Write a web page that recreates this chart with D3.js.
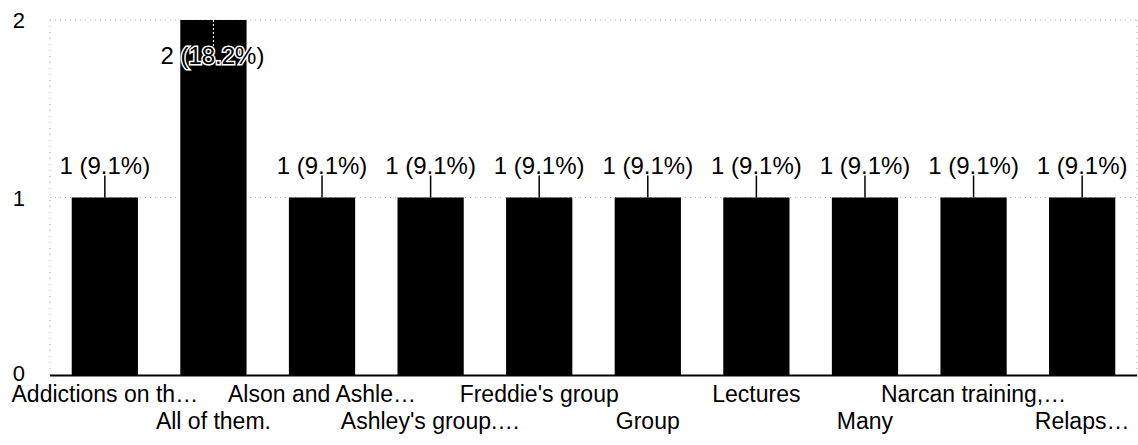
<!DOCTYPE html>
<html>
<head>
<meta charset="utf-8">
<script src="https://cdn.jsdelivr.net/npm/d3@7"></script>
<style>
  body { margin: 0; background: #fff; }
  svg { display: block; font-family: "Liberation Sans", Arial, sans-serif; }
</style>
</head>
<body>
<svg id="chart" width="1138" height="445"></svg>
<script>
// chart data
const categories = [
    "Addictions on th\u2026", "All of them.", "Alson and Ashle\u2026", "Ashley's group.\u2026",
    "Freddie's group", "Group", "Lectures", "Many", "Narcan training,\u2026", "Relaps\u2026"
];
const values = [1, 2, 1, 1, 1, 1, 1, 1, 1, 1];
const yTicks = [0, 1, 2];

const total = d3.sum(values);
const fmtPct = d3.format(".1%");

const svg = d3.select("#chart");

const x = d3.scaleBand()
    .domain(categories)
    .range([50, 1137])
    .paddingInner(0.39)
    .paddingOuter(0.2);

const y = d3.scaleLinear()
    .domain([0, 2])
    .range([375, 20]);

// dotted grid
let grid = svg.append("g");
grid.selectAll("line.h")
    .data(yTicks.filter(d => d > 0))
    .join("line")
    .attr("x1", 50).attr("x2", 1137)
    .attr("y1", d => y(d)).attr("y2", d => y(d))
    .attr("stroke", "#aaa")
    .attr("stroke-dasharray", "1,4");

grid.selectAll("line.v")
    .data([50, 1137])
    .join("line")
    .attr("x1", d => d).attr("x2", d => d)
    .attr("y1", y(2)).attr("y2", y(0))
    .attr("stroke", "#aaa")
    .attr("stroke-dasharray", "1,5");

// y labels
svg.append("g").selectAll("text")
    .data(yTicks)
    .join("text")
    .attr("x", 25)
    .attr("y", d => y(d) + (d === 0 ? 6 : 8))
    .attr("text-anchor", "end")
    .style("font-size", "22px")
    .text(d => d);

// bars
svg.append("g").selectAll("rect")
    .data(values)
    .join("rect")
    .attr("x", (d, i) => x(categories[i]))
    .attr("y", d => y(d))
    .attr("width", x.bandwidth())
    .attr("height", d => y(0) - y(d))
    .attr("fill", "#000");

// axis line
svg.append("line")
    .attr("x1", 50).attr("x2", 1137)
    .attr("y1", y(0) + 0.5).attr("y2", y(0) + 0.5)
    .attr("stroke", "#000")
    .attr("stroke-width", 2);

// value labels with connectors
const maxV = d3.max(values);
values.forEach((v, i) => {
    const cx = x(categories[i]) + x.bandwidth() / 2;
    const inside = v === maxV;
    const label = v + " (" + fmtPct(v / total) + ")";
    if (inside) {
        svg.append("line")
            .attr("x1", cx).attr("x2", cx)
            .attr("y1", y(v)).attr("y2", y(v) + 26)
            .attr("stroke", "#fff")
            .attr("stroke-dasharray", "2,2");
        svg.append("text")
            .attr("x", cx - 1)
            .attr("y", y(v) + 44)
            .attr("text-anchor", "middle")
            .style("font-size", "24px")
            .attr("fill", "#000")
            .attr("stroke", "#fff")
            .attr("stroke-width", 3)
            .attr("paint-order", "stroke")
            .text(label);
    } else {
        svg.append("line")
            .attr("x1", cx).attr("x2", cx)
            .attr("y1", y(v) - 22).attr("y2", y(v))
            .attr("stroke", "#000")
            .attr("stroke-width", 1.5);
        svg.append("text")
            .attr("x", cx)
            .attr("y", y(v) - 24)
            .attr("text-anchor", "middle")
            .style("font-size", "24px")
            .text(label);
    }
});

// x labels, staggered in two rows
svg.append("g").selectAll("text")
    .data(categories)
    .join("text")
    .attr("x", d => x(d) + x.bandwidth() / 2)
    .attr("y", (d, i) => i % 2 === 0 ? 402 : 429)
    .attr("text-anchor", "middle")
    .style("font-size", "23px")
    .text(d => d);
</script>
</body>
</html>
